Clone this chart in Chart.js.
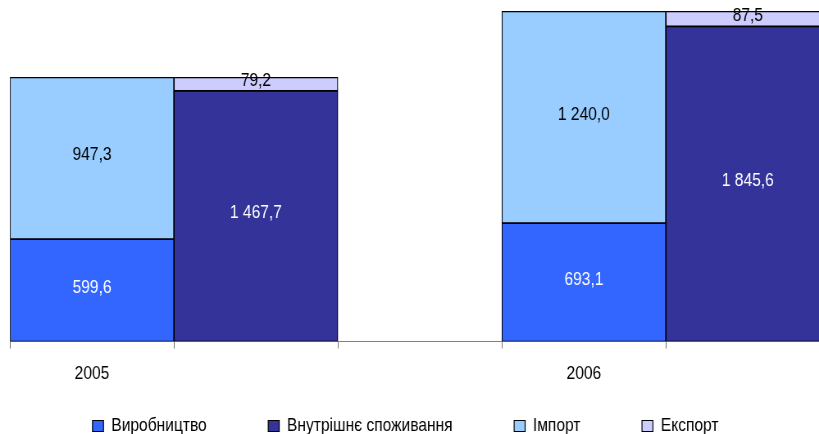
<!DOCTYPE html>
<html>
<head>
<meta charset="utf-8">
<script src="https://cdn.jsdelivr.net/npm/chart.js@4.4.0/dist/chart.umd.min.js"></script>
<style>
  html, body { margin: 0; padding: 0; background: #fff; overflow: hidden; width: 819px; height: 434px; }
  /* the original artwork is horizontally condensed; draw wider and squeeze */
  #wrap { width: 999px; height: 434px; transform: scaleX(0.81982); transform-origin: 0 0; }
  canvas { display: block; }
</style>
</head>
<body>
<div id="wrap"><canvas id="c" width="999" height="434"></canvas></div>
<script>
// ---- data ----
const years = ['2005', '2006'];
const seriesNames = ['Виробництво', 'Внутрішнє споживання', 'Імпорт', 'Експорт'];
const production = [599.6, 693.1];
const consumption = [1467.7, 1845.6];
const imports = [947.3, 1240.0];
const exportVals = [79.2, 87.5];

// ---- layout helpers ----
const FONT = "'Liberation Sans', Arial, sans-serif";
const FS = 19;
const GROUP = 3; // slots per year: supply column, use column, gap
const X_MAX = 4.434;
const toPts = (vals, off) => vals.map((v, i) => ({ x: i * GROUP + off, y: v }));

function fmt(v) {
  const parts = v.toFixed(1).split('.');
  return parts[0].replace(/\B(?=(\d{3})+(?!\d))/g, ' ') + ',' + parts[1];
}

const common = {
  borderColor: '#000000',
  borderWidth: 1.2,
  borderSkipped: false,
  barPercentage: 1,
  categoryPercentage: 1
};

const datasets = [
  Object.assign({ label: seriesNames[0], data: toPts(production, 0), backgroundColor: '#3366FF', labelColor: '#FFFFFF' }, common),
  Object.assign({ label: seriesNames[1], data: toPts(consumption, 1), backgroundColor: '#333399', labelColor: '#FFFFFF' }, common),
  Object.assign({ label: seriesNames[2], data: toPts(imports, 0), backgroundColor: '#99CCFF', labelColor: '#000000' }, common),
  Object.assign({ label: seriesNames[3], data: toPts(exportVals, 1), backgroundColor: '#CCCCFF', labelColor: '#000000' }, common)
];

const valueLabels = {
  id: 'valueLabels',
  afterDatasetsDraw(chart) {
    const ctx = chart.ctx;
    ctx.save();
    ctx.font = FS + 'px ' + FONT;
    ctx.textAlign = 'center';
    ctx.textBaseline = 'middle';
    chart.data.datasets.forEach((ds, i) => {
      const meta = chart.getDatasetMeta(i);
      meta.data.forEach((bar, j) => {
        const p = bar.getProps(['x', 'y', 'base'], true);
        ctx.fillStyle = ds.labelColor;
        ctx.fillText(fmt(ds.data[j].y), p.x, (p.y + p.base) / 2 - 3);
      });
    });
    ctx.restore();
  }
};

new Chart(document.getElementById('c'), {
  type: 'bar',
  data: { datasets },
  plugins: [valueLabels],
  options: {
    responsive: false,
    animation: false,
    devicePixelRatio: 1,
    layout: { padding: { left: -9.8, right: 0, top: 0, bottom: 0 } },
    plugins: {
      tooltip: { enabled: false },
      legend: {
        position: 'bottom',
        maxHeight: 92.5,
        labels: {
          boxWidth: 13.4,
          boxHeight: 11,
          padding: 75,
          color: '#000',
          font: { family: FONT, size: FS }
        }
      }
    },
    scales: {
      x: {
        type: 'linear',
        stacked: true,
        offset: false,
        min: -0.5,
        max: X_MAX,
        afterBuildTicks: (s) => {
          const t = [];
          for (let k = 0; k - 0.5 < X_MAX; k++) t.push({ value: k - 0.5 });
          s.ticks = t;
        },
        afterFit: (s) => { s.height = 0; s.paddingLeft = 0; s.paddingRight = 0; },
        ticks: {
          autoSkip: false,
          maxRotation: 0,
          minRotation: 0,
          mirror: true,
          labelOffset: 100,
          padding: -43.9,
          color: '#000',
          font: { family: FONT, size: FS },
          callback: (value) => {
            const k = Math.round(value + 0.5);
            return (k % GROUP === 0) ? (years[k / GROUP] || '') : '';
          }
        },
        grid: { offset: false, drawOnChartArea: false, drawTicks: true, tickLength: 7, color: '#707070', lineWidth: 1 },
        border: { display: true, color: '#808080', width: 1 }
      },
      y: {
        type: 'linear',
        stacked: true,
        min: 0,
        max: 2000,
        ticks: { display: false },
        grid: { display: false },
        border: { display: false },
        afterFit: (s) => { s.width = 22; }
      }
    }
  }
});
</script>
</body>
</html>
